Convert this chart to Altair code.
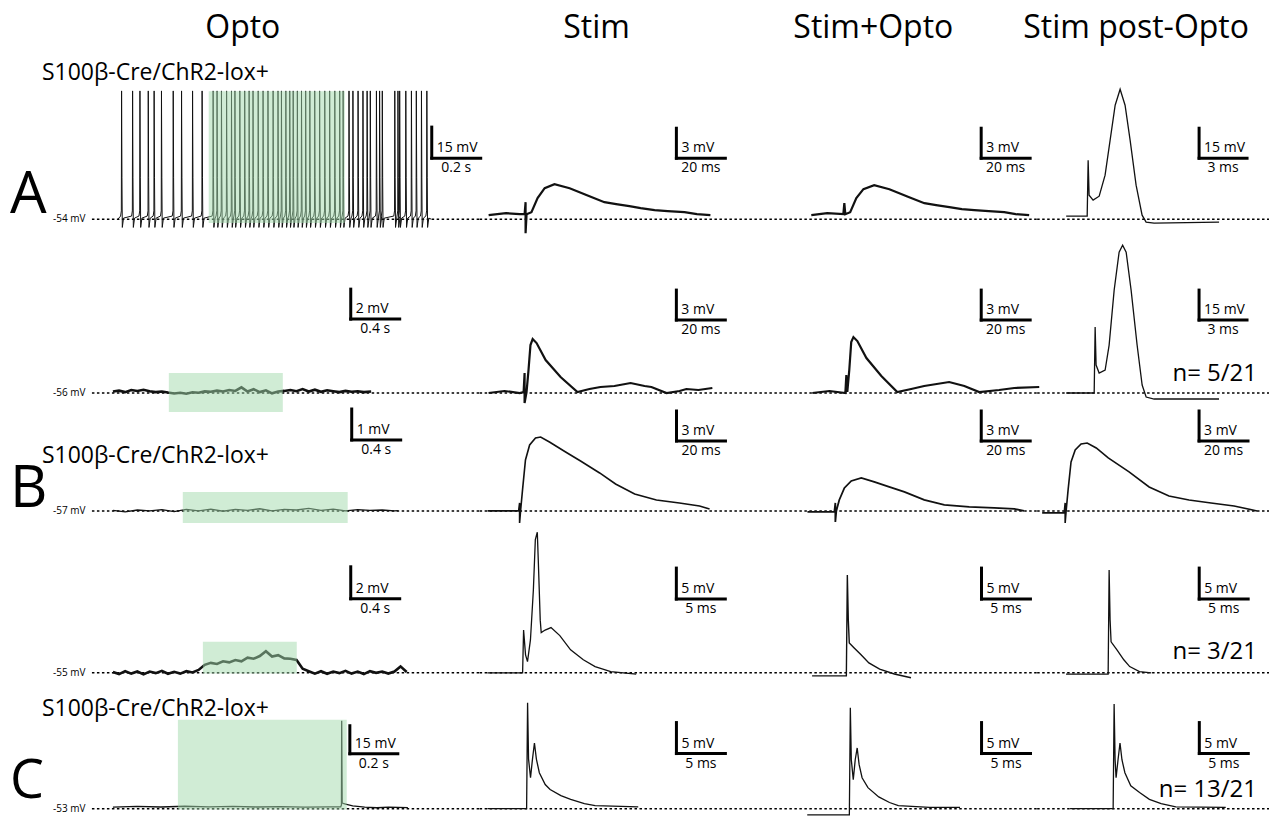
import altair as alt
import pandas as pd

FONT = "Open Sans"

# ------------------------------------------------------------------ texts
HEADERS = ["Opto", "Stim", "Stim+Opto", "Stim post-Opto"]
GENOTYPE = "S100β-Cre/ChR2-lox+"
ROW_LETTERS = ["A", "", "B", "", "C"]
REST_LABELS = ["-54 mV", "-56 mV", "-57 mV", "-55 mV", "-53 mV"]
N_LABELS = ["", "n= 5/21", "", "n= 3/21", "n= 13/21"]

# ------------------------------------------------------------------ data
# Opto column (time in s, voltage in mV relative to resting potential)
optoA_spike_t = [0.015, 0.060, 0.090, 0.124, 0.148, 0.178, 0.226, 0.260, 0.305, 0.344,
                 0.389, 0.405, 0.423, 0.444, 0.464, 0.478, 0.498, 0.518, 0.536, 0.552,
                 0.573, 0.593, 0.613, 0.634, 0.654, 0.668, 0.686, 0.702, 0.716, 0.733,
                 0.750, 0.767, 0.784, 0.804, 0.824, 0.845, 0.865, 0.886, 0.906, 0.920,
                 0.944, 0.960, 0.981, 1.001, 1.018, 1.031, 1.056, 1.069, 1.080, 1.131,
                 1.144, 1.151, 1.176, 1.199, 1.219, 1.240, 1.262]
optoA_peak = 62.0
optoA_end = 1.28

opto2_t = [0.0, 0.05, 0.1, 0.15, 0.2, 0.25, 0.3, 0.35, 0.4, 0.45, 0.5, 0.55, 0.6, 0.65,
           0.7, 0.75, 0.8, 0.85, 0.9, 0.95, 1.0, 1.05, 1.1, 1.15, 1.2, 1.25, 1.3, 1.35,
           1.4, 1.45, 1.5, 1.55, 1.6, 1.65, 1.7, 1.75, 1.8, 1.85, 1.9, 1.95, 2.0, 2.05, 2.11]
opto2_v = [0.10, 0.16, 0.06, 0.20, 0.14, 0.22, 0.12, 0.06, 0.10, 0.03, -0.03, 0.02, -0.05,
           0.05, 0.02, 0.11, 0.08, 0.16, 0.10, 0.20, 0.14, 0.38, 0.10, 0.25, 0.06, 0.18,
           -0.02, 0.10, 0.14, 0.20, 0.12, 0.26, 0.10, 0.22, 0.08, 0.18, 0.12, 0.06, 0.14,
           0.08, 0.12, 0.06, 0.10]

optoB_t = [0.0, 0.1, 0.2, 0.3, 0.4, 0.5, 0.6, 0.7, 0.8, 0.9, 1.0, 1.1, 1.2, 1.3, 1.4,
           1.5, 1.6, 1.7, 1.8, 1.9, 2.0, 2.1, 2.2, 2.3, 2.33]
optoB_v = [0.02, -0.03, 0.03, 0.00, 0.04, -0.02, 0.05, 0.00, 0.06, -0.01, 0.05, 0.02,
           0.07, 0.00, 0.05, 0.03, 0.08, 0.02, 0.06, 0.00, 0.04, 0.02, 0.03, 0.00, 0.01]

opto4_t = [0.0, 0.05, 0.1, 0.15, 0.2, 0.25, 0.3, 0.35, 0.4, 0.45, 0.5, 0.55, 0.6, 0.65,
           0.7, 0.75, 0.8, 0.85, 0.9, 0.95, 1.0, 1.05, 1.1, 1.15, 1.2, 1.25, 1.3, 1.35,
           1.4, 1.45, 1.5, 1.55, 1.6, 1.65, 1.7, 1.75, 1.8, 1.85, 1.9, 1.95, 2.0, 2.05,
           2.1, 2.15, 2.2, 2.25, 2.3, 2.35, 2.4]
opto4_v = [0.05, -0.08, 0.10, -0.05, 0.08, -0.10, 0.08, -0.02, 0.12, -0.06, 0.06, -0.05,
           0.10, 0.02, 0.18, 0.50, 0.62, 0.55, 0.72, 0.65, 0.80, 0.72, 0.95, 0.88, 1.05,
           1.35, 1.02, 1.10, 0.90, 0.88, 0.80, 0.25, 0.10, -0.05, 0.10, -0.06, 0.08, -0.02,
           0.12, -0.05, 0.08, -0.08, 0.10, 0.00, 0.08, -0.05, 0.08, 0.40, 0.05]

optoC_t = [0.0, 0.1, 0.2, 0.3, 0.4, 0.5, 0.6, 0.7, 0.8, 0.9, 0.95, 0.953, 0.954, 0.956,
           0.97, 1.0, 1.05, 1.1, 1.15, 1.23]
optoC_v = [0.8, 1.2, 0.9, 1.3, 1.0, 1.2, 0.9, 1.1, 0.8, 1.0, 1.0, 2.0, 47.0, 3.0, 2.5,
           1.5, 0.8, 0.5, 0.8, 0.6]

# Light pulses (t start, t end, v low, v high)
GREEN = [(0.371, 0.927, -1.9, 61.8),
         (0.457, 1.388, -1.27, 1.33),
         (0.571, 1.918, -0.39, 0.61),
         (0.735, 1.502, -0.05, 1.94),
         (0.271, 0.975, -0.5, 47.6)]

# Stim / Stim+Opto / Stim post-Opto (time in ms, voltage in mV)
stimA_t = [-15.1, -8.0, -2.4, -0.4, 0.0, 0.0, 0.4, 2.4, 4.9, 7.8, 11.8, 18.0, 26.1, 32.2,
           37.0, 42.4, 47.0, 52.7, 58.0, 64.9, 70.0, 75.5]
stimA_v = [0.4, 0.6, 0.5, 0.5, 1.7, -1.4, 0.5, 0.7, 2.1, 3.1, 3.5, 3.1, 2.3, 1.7, 1.5,
           1.3, 1.1, 0.9, 0.8, 0.7, 0.5, 0.4]
soA_t = [-13.5, -7.0, -0.4, 0.0, 0.4, 2.4, 4.9, 7.8, 12.2, 18.4, 26.5, 32.7, 37.5, 42.9,
         48.0, 53.1, 59.0, 65.3, 70.0, 75.5]
soA_v = [0.4, 0.6, 0.5, 1.6, 0.5, 0.7, 2.1, 3.0, 3.4, 3.0, 2.2, 1.6, 1.4, 1.2, 1.0, 0.9,
         0.8, 0.7, 0.5, 0.4]
postA_t = [-1.375, -0.06, 0.0, 0.06, 0.31, 0.69, 1.06, 1.375, 1.69, 2.0, 2.31, 2.625, 3.0,
           3.375, 3.625, 4.125, 8.19]
postA_v = [1.5, 1.5, 29.5, 12.0, 9.5, 11.5, 22.0, 39.5, 57.0, 65.0, 57.0, 39.5, 17.0, 2.0,
           -1.5, -2.0, -1.5]

stim2_t = [-14.7, -8.2, -2.0, -0.4, 0.0, 0.0, 0.8, 1.6, 2.4, 3.3, 4.9, 8.6, 14.7, 21.6,
           26.5, 31.0, 36.7, 43.3, 49.0, 51.8, 58.0, 63.3, 66.1, 71.0, 76.7]
stim2_v = [0.0, 0.2, 0.0, 0.1, 2.0, -1.0, 0.1, 2.3, 4.8, 5.4, 5.0, 3.3, 1.6, 0.1, 0.4,
           0.6, 0.7, 1.0, 0.7, 0.6, 0.0, 0.2, 0.4, 0.3, 0.5]
so2_t = [-13.9, -6.9, -0.4, 0.0, 0.4, 1.2, 2.0, 2.9, 4.5, 8.2, 14.3, 20.8, 26.5, 31.8,
         42.0, 48.2, 54.3, 62.4, 68.6, 78.8]
so2_v = [0.0, 0.2, 0.0, 1.8, 0.1, 2.3, 5.1, 5.6, 5.2, 3.5, 1.7, 0.1, 0.4, 0.7, 1.1, 0.7,
         0.1, 0.3, 0.5, 0.6]
post2_t = [-1.81, -0.06, 0.0, 0.06, 0.25, 0.625, 0.875, 1.19, 1.5, 1.72, 1.94, 2.25, 2.625,
           2.94, 3.19, 3.69, 7.75]
post2_v = [0.0, 0.0, 33.0, 14.0, 10.0, 11.5, 24.0, 51.5, 70.5, 74.0, 70.5, 51.5, 24.0, 4.0,
           -2.0, -3.0, -3.0]

stimB_t = [-13.1, -0.4, 0.0, 0.0, 0.4, 1.2, 2.4, 4.1, 6.5, 8.6, 12.2, 18.8, 24.9, 32.7,
           39.2, 47.0, 55.9, 65.3, 73.5, 77.6]
stimB_v = [0.0, 0.0, 0.8, -1.2, 0.0, 2.1, 5.1, 6.6, 7.3, 7.4, 6.9, 5.9, 5.0, 3.8, 2.7,
           1.7, 1.1, 0.8, 0.5, 0.2]
soB_t = [-11.4, -0.4, 0.0, 0.0, 0.4, 1.6, 3.7, 6.5, 10.6, 15.9, 22.0, 28.2, 36.3, 44.5,
         54.7, 64.9, 73.1, 77.1]
soB_v = [-0.1, -0.1, 0.8, -1.1, 0.0, 1.1, 2.3, 3.0, 3.3, 2.9, 2.4, 1.9, 1.1, 0.6, 0.4,
         0.3, 0.2, 0.0]
postB_t = [-9.4, -0.4, 0.0, 0.0, 0.4, 1.2, 2.4, 4.1, 6.5, 9.0, 12.7, 17.6, 26.1, 34.3,
           42.4, 50.6, 59.6, 69.0, 78.4]
postB_v = [-0.2, -0.2, 0.8, -1.2, 0.0, 2.1, 4.9, 6.1, 6.7, 6.8, 6.3, 5.3, 3.9, 2.4, 1.5,
           1.1, 0.8, 0.5, 0.0]

stim4_t = [-3.7, -0.1, 0.0, 0.2, 0.4, 0.7, 1.0, 1.2, 1.4, 1.5, 1.7, 1.8, 2.2, 2.8, 3.7,
           4.8, 6.1, 7.3, 8.9, 11.5]
stim4_v = [0.0, 0.0, 6.9, 2.9, 1.8, 5.3, 13.4, 21.5, 22.7, 18.2, 8.5, 6.5, 6.9, 7.3, 6.0,
           3.7, 2.1, 1.0, 0.2, -0.2]
so4_t = [-3.6, -0.1, 0.0, 0.1, 0.2, 0.7, 1.4, 2.2, 3.3, 4.8, 6.5]
so4_v = [-0.5, -0.5, 15.8, 8.5, 4.8, 4.0, 2.9, 1.6, 0.6, -0.2, -0.8]
post4_t = [-4.4, -0.1, 0.0, 0.1, 0.2, 0.8, 1.5, 2.1, 3.1, 4.3]
post4_v = [-0.2, -0.2, 16.6, 8.5, 5.0, 3.7, 2.1, 1.0, 0.2, 0.0]

stimC_t = [-4.1, -0.1, 0.0, 0.1, 0.3, 0.5, 0.7, 0.9, 1.2, 1.8, 2.3, 3.4, 4.4, 5.8, 6.9, 11.3]
stimC_v = [0.0, 0.0, 17.1, 8.0, 5.0, 8.0, 10.6, 8.0, 5.8, 3.9, 3.1, 2.1, 1.5, 0.8, 0.5, 0.3]
soC_t = [-4.4, -0.1, 0.0, 0.1, 0.3, 0.5, 0.7, 0.9, 1.2, 1.8, 2.9, 4.0, 4.9, 8.1, 11.2]
soC_v = [-1.0, -1.0, 16.3, 7.9, 4.7, 7.9, 9.8, 7.1, 5.0, 3.4, 1.9, 1.0, 0.5, 0.2, 0.2]
postC_t = [-4.5, -0.1, 0.0, 0.1, 0.2, 0.4, 0.6, 0.8, 1.1, 1.7, 2.6, 3.6, 4.8, 6.3, 11.4]
postC_v = [0.0, 0.0, 16.9, 7.9, 5.0, 7.9, 10.6, 7.9, 5.8, 3.7, 2.6, 1.5, 0.8, 0.3, 0.2]

# Scale bars: (t corner, v corner, t length, v length, t label, v label)
SCALEBARS = [
    [(1.282, 29.5, 0.2, 15, "0.2 s", "15 mV"), (61.6, 6.1, 20, 3, "20 ms", "3 mV"),
     (55.9, 6.1, 20, 3, "20 ms", "3 mV"), (6.94, 30.5, 3, 15, "3 ms", "15 mV")],
    [(1.943, 4.93, 0.4, 2, "0.4 s", "2 mV"), (62.0, 7.3, 20, 3, "20 ms", "3 mV"),
     (55.1, 7.3, 20, 3, "20 ms", "3 mV"), (6.5, 36.5, 3, 15, "3 ms", "15 mV")],
    [(1.951, 2.29, 0.4, 1, "0.4 s", "1 mV"), (64.1, 7.0, 20, 3, "20 ms", "3 mV"),
     (59.6, 7.0, 20, 3, "20 ms", "3 mV"), (54.7, 7.0, 20, 3, "20 ms", "3 mV")],
    [(1.943, 4.63, 0.4, 2, "0.4 s", "2 mV"), (15.6, 11.9, 5, 5, "5 ms", "5 mV"),
     (13.7, 11.9, 5, 5, "5 ms", "5 mV"), (9.2, 11.9, 5, 5, "5 ms", "5 mV")],
    [(0.988, 29.4, 0.2, 15, "0.2 s", "15 mV"), (15.2, 8.9, 5, 5, "5 ms", "5 mV"),
     (13.4, 8.9, 5, 5, "5 ms", "5 mV"), (8.7, 8.9, 5, 5, "5 ms", "5 mV")],
]

# ------------------------------------------------------------------ layout (pixels)
COL_EDGES = [0, 480, 790, 1038, 1270]
ROW_EDGES = [0, 236, 402, 527, 690, 816]
BASE_Y = [219, 393, 511, 673, 809]
ANCHOR_X = [[118, 526, 845, 1089],
            [113, 525, 847, 1096],
            [113, 520, 836, 1066],
            [113, 524, 848, 1110],
            [113, 528, 851, 1115]]
KX = [[245, 2.45, 2.45, 16], [122.5, 2.45, 2.45, 16], [122.5, 2.45, 2.45, 2.45],
      [122.5, 9.8, 9.8, 9.8], [240, 9.8, 9.8, 9.8]]
KY = [[2.07, 10, 10, 2.0], [15, 10, 10, 2.0], [31, 10, 10, 10],
      [16, 6.2, 6.2, 6.2], [1.87, 6.2, 6.2, 6.2]]
HEADER_X = [243, 597, 874, 1137]
GENO_BASE = [80, None, 61, None, 26]
LETTER_BASE = [213, None, 105, None, 108]
LETTER_SIZE = [58, None, 58, None, 54]
N_Y = [None, 138, None, 125, 100]


def spike_train(times, peak, end):
    t, v = [0.0], [0.0]
    for s in times:
        t += [s - 0.004, s - 0.001, s, s + 0.0015, s + 0.003, s + 0.008]
        v += [1.5, 4.0, peak, 20.0, -4.0, 0.5]
    t.append(end)
    v.append(0.0)
    return t, v


optoA_t, optoA_v = spike_train(optoA_spike_t, optoA_peak, optoA_end)

TRACES = [
    [(optoA_t, optoA_v, 1.0), (stimA_t, stimA_v, 2.2), (soA_t, soA_v, 2.2), (postA_t, postA_v, 1.3)],
    [(opto2_t, opto2_v, 2.6), (stim2_t, stim2_v, 2.2), (so2_t, so2_v, 2.2), (post2_t, post2_v, 1.3)],
    [(optoB_t, optoB_v, 1.3), (stimB_t, stimB_v, 1.6), (soB_t, soB_v, 1.8), (postB_t, postB_v, 1.6)],
    [(opto4_t, opto4_v, 2.6), (stim4_t, stim4_v, 1.3), (so4_t, so4_v, 1.4), (post4_t, post4_v, 1.3)],
    [(optoC_t, optoC_v, 1.3), (stimC_t, stimC_v, 1.3), (soC_t, soC_v, 1.3), (postC_t, postC_v, 1.3)],
]


def panel(r, c):
    L, R = COL_EDGES[c], COL_EDGES[c + 1]
    T, B = ROW_EDGES[r], ROW_EDGES[r + 1]
    w, h = R - L, B - T
    xa, yb, kx, ky = ANCHOR_X[r][c], BASE_Y[r], KX[r][c], KY[r][c]
    xs = alt.Scale(domain=[(L - xa) / kx, (R - xa) / kx], nice=False, zero=False)
    ys = alt.Scale(domain=[(yb - B) / ky, (yb - T) / ky], nice=False, zero=False)
    X = lambda f: alt.X(f, scale=xs, axis=None)
    Y = lambda f: alt.Y(f, scale=ys, axis=None)
    layers = []

    # dotted resting-potential line
    layers.append(alt.Chart(pd.DataFrame({"v": [0.0]})).mark_rule(
        color="black", strokeWidth=1.5, strokeDash=[2.5, 2.5]).encode(
        y=Y("v:Q"), x=alt.value(92 - L if c == 0 else 0), x2=alt.value(w)))

    # trace
    t, v, sw = TRACES[r][c]
    df = pd.DataFrame({"t": t, "v": v, "i": list(range(len(t)))})
    layers.append(alt.Chart(df).mark_line(color="#111111", strokeWidth=sw).encode(
        x=X("t:Q"), y=Y("v:Q"), order="i:Q"))

    # light pulse
    if c == 0:
        g0, g1, gv0, gv1 = GREEN[r]
        layers.append(alt.Chart(pd.DataFrame({"t": [g0], "t2": [g1], "v": [gv0], "v2": [gv1]}))
                      .mark_rect(color="#a1d9ab", opacity=0.5).encode(
            x=X("t:Q"), x2="t2:Q", y=Y("v:Q"), y2="v2:Q"))

    # scale bar
    t0, v0, tl, vl, tlab, vlab = SCALEBARS[r][c]
    bars = pd.DataFrame({"t": [t0, t0], "t2": [t0, t0 + tl], "v": [v0, v0], "v2": [v0 + vl, v0]})
    layers.append(alt.Chart(bars).mark_rule(color="black", strokeWidth=3, strokeCap="square").encode(
        x=X("t:Q"), x2="t2:Q", y=Y("v:Q"), y2="v2:Q"))
    layers.append(alt.Chart(pd.DataFrame({"t": [t0], "v": [v0], "s": [vlab]})).mark_text(
        align="left", baseline="bottom", dx=5, dy=-3, font=FONT, fontSize=14, color="black").encode(
        x=X("t:Q"), y=Y("v:Q"), text="s:N"))
    layers.append(alt.Chart(pd.DataFrame({"t": [t0 + tl / 2], "v": [v0], "s": [tlab]})).mark_text(
        align="center", baseline="top", dy=3, font=FONT, fontSize=14, color="black").encode(
        x=X("t:Q"), y=Y("v:Q"), text="s:N"))

    # column headers
    if r == 0:
        layers.append(alt.Chart(pd.DataFrame({"s": [HEADERS[c]]})).mark_text(
            align="center", baseline="alphabetic", font=FONT, fontSize=32, color="black").encode(
            x=alt.value(HEADER_X[c] - L), y=alt.value(38), text="s:N"))

    if c == 0:
        layers.append(alt.Chart(pd.DataFrame({"v": [0.0], "s": [REST_LABELS[r]]})).mark_text(
            align="left", baseline="middle", font=FONT, fontSize=10, color="black").encode(
            x=alt.value(53), y=Y("v:Q"), text="s:N"))
        if ROW_LETTERS[r]:
            layers.append(alt.Chart(pd.DataFrame({"s": [ROW_LETTERS[r]]})).mark_text(
                align="left", baseline="alphabetic", font=FONT, fontSize=LETTER_SIZE[r],
                color="black").encode(
                x=alt.value(10), y=alt.value(LETTER_BASE[r]), text="s:N"))
            layers.append(alt.Chart(pd.DataFrame({"s": [GENOTYPE]})).mark_text(
                align="left", baseline="alphabetic", font=FONT, fontSize=23, color="black").encode(
                x=alt.value(42), y=alt.value(GENO_BASE[r]), text="s:N"))

    if c == 3 and N_LABELS[r]:
        layers.append(alt.Chart(pd.DataFrame({"s": [N_LABELS[r]]})).mark_text(
            align="right", baseline="middle", font=FONT, fontSize=24, color="black").encode(
            x=alt.value(220), y=alt.value(N_Y[r]), text="s:N"))

    return alt.layer(*layers).properties(width=w, height=h)


panels = [panel(r, c) for r in range(5) for c in range(4)]
chart = alt.concat(*panels, columns=4, spacing=0, bounds="flush", align="each").properties(
    padding=0).configure_view(stroke=None)

chart.save("out.html", embed_options={"renderer": "svg", "actions": False})
